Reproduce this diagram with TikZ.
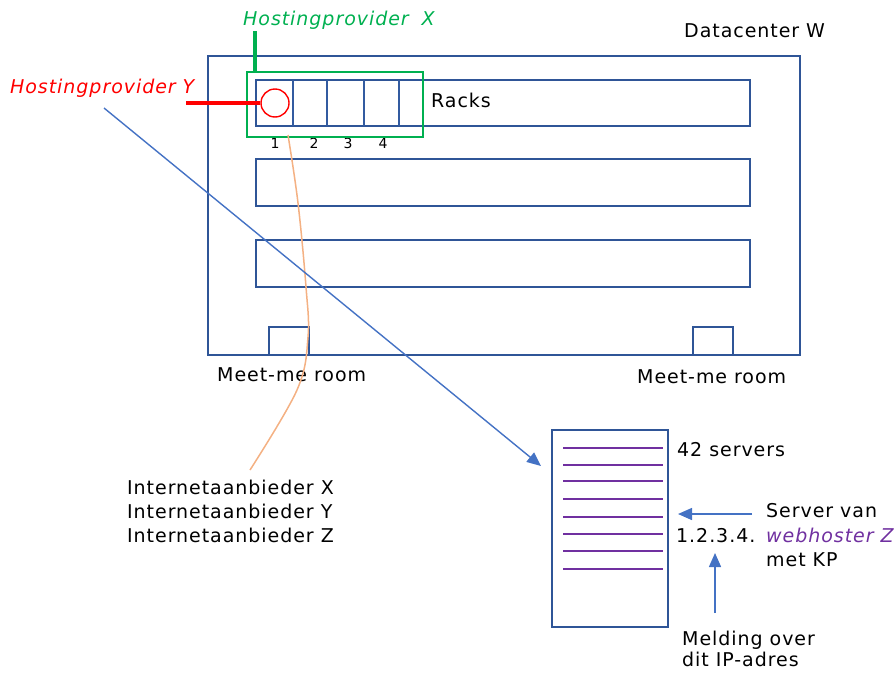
\documentclass[tikz,border=0pt]{standalone}
\usepackage{fontspec}
\setmainfont{DejaVu Sans}[LetterSpace=5]
\usetikzlibrary{arrows.meta}
\definecolor{rackblue}{HTML}{2F5597}
\definecolor{arrblue}{HTML}{4472C4}
\definecolor{hgreen}{HTML}{00B050}
\definecolor{hred}{HTML}{FF0000}
\definecolor{horange}{HTML}{F4B183}
\definecolor{hpurple}{HTML}{7030A0}
\tikzset{
  box/.style={draw=rackblue, line width=1.5pt, anchor=north west, inner sep=0pt, outer sep=0pt},
  lbl/.style={anchor=base west, inner sep=0pt, font=\fontsize{19}{24}\selectfont},
  racknum/.style={anchor=base, inner sep=0pt},
  arr/.style={draw=arrblue, line width=1.4pt, -{Triangle[length=14pt,width=12pt]}},
  srvline/.style={draw=hpurple, line width=1.5pt}
}
\newcommand{\rn}[1]{\fontsize{14}{16}\selectfont #1}
\begin{document}
\begin{tikzpicture}[x=1pt,y=-1pt]
\useasboundingbox (0,0) rectangle (896,672);
% datacenter
\node[box, minimum width=592pt, minimum height=299pt] (dc) at (208,56) {};
\node[lbl] (dclbl) at (684,37) {Datacenter W};
% rack rows
\node[box, minimum width=494pt, minimum height=46pt] (row1) at (256,80) {};
\node[box, minimum width=494pt, minimum height=47pt] (row2) at (256,159) {};
\node[box, minimum width=494pt, minimum height=47pt] (row3) at (256,240) {};
\foreach \x in {293,327,364,399} \draw[rackblue!80!arrblue, line width=1.3pt] (\x,80) -- (\x,126);
\node[lbl] (racks) at (431,107) {Racks};
\node[racknum] (n1) at (275,148) {\rn{1}};
\node[racknum] (n2) at (314,148) {\rn{2}};
\node[racknum] (n3) at (348,148) {\rn{3}};
\node[racknum] (n4) at (383,148) {\rn{4}};
% hosting provider X
\node[draw=hgreen, line width=1.6pt, anchor=north west, inner sep=0pt, minimum width=176pt, minimum height=65pt] (hpx) at (246,71) {};
\node[lbl, text=hgreen, font=\fontsize{19}{24}\selectfont\itshape] (hpxlbl) at (243,25) {Hostingprovider\hspace{6pt} X};
\coordinate (gtop) at (255,31);
\draw[hgreen, line width=3.5pt] (gtop) -- (255,71);
% hosting provider Y
\node[draw=hred, circle, line width=1.4pt, minimum size=28pt, inner sep=0pt] (hpy) at (275,103) {};
\node[lbl, text=hred, font=\fontsize{19}{24}\selectfont\itshape] (hpylbl) at (10,93) {Hostingprovider Y};
\coordinate (rstart) at (186,103);
\draw[hred, line width=3.5pt] (rstart) -- (hpy.west);
% meet-me rooms
\node[box, minimum width=40pt, minimum height=28pt] (mm1) at (269,327) {};
\node[box, minimum width=40pt, minimum height=28pt] (mm2) at (693,327) {};
\node[lbl] (mm1lbl) at (217,381) {Meet-me room};
\node[lbl] (mm2lbl) at (637,383) {Meet-me room};
% internet providers
\node[lbl] (ia1) at (127,494) {Internetaanbieder X};
\node[lbl] (ia2) at (127,518) {Internetaanbieder Y};
\node[lbl] (ia3) at (127,542) {Internetaanbieder Z};
% orange cable
\draw[horange, line width=1.5pt] plot[smooth, tension=0.6] coordinates {(288,135) (298,203) (306,287) (308,337) (297,390) (250,470)};
% server rack
\node[box, minimum width=116pt, minimum height=197pt] (srv) at (552,430) {};
\foreach \y in {448,465,481,499,517,534,551,569} \draw[srvline] (563,\y) -- (663,\y);
\node[lbl] (s42) at (677,456) {42 servers};
\node[lbl] (ip) at (676,542) {1.2.3.4.};
\node[lbl] (sv1) at (766,517) {Server van};
\node[lbl, text=hpurple, font=\fontsize{19}{24}\selectfont\itshape] (sv2) at (766,542) {webhoster Z};
\node[lbl] (sv3) at (766,566) {met KP};
\node[lbl] (ml1) at (682,645) {Melding over};
\node[lbl] (ml2) at (682,666) {dit IP-adres};
% arrows
\coordinate (bstart) at (104,108);
\coordinate (bend) at (541,466);
\draw[arr] (bstart) -- (bend);
\coordinate (hstart) at (752,514);
\coordinate (hend) at (678,514);
\draw[arr] (hstart) -- (hend);
\coordinate (vstart) at (715,613);
\coordinate (vend) at (715,553);
\draw[arr] (vstart) -- (vend);
\end{tikzpicture}
\end{document}
